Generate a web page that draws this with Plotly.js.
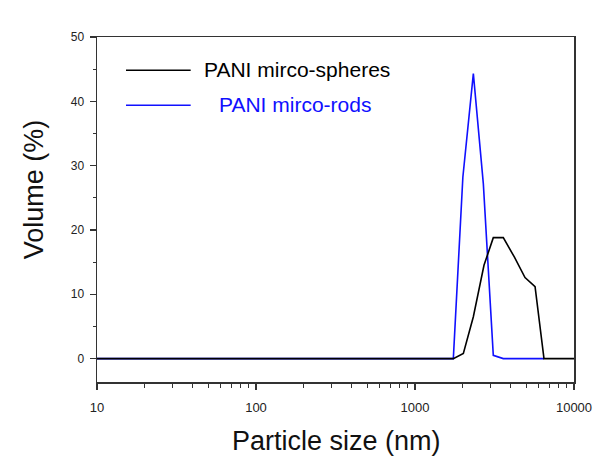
<!DOCTYPE html>
<html>
<head>
<meta charset="utf-8">
<script src="https://cdn.plot.ly/plotly-3.0.1.min.js"></script>
<style>
  html, body { margin: 0; padding: 0; background: #fff; }
  #chart { width: 596px; height: 459px; }
</style>
</head>
<body>
<div id="chart"></div>
<script>
// Particle size (nm) and volume (%)
const spheresSize   = [10, 1742, 2014, 2328, 2716, 3108, 3591, 4213, 4920, 5690, 6475, 10000];
const spheresVolume = [0, 0, 0.8, 6.5, 14.5, 18.8, 18.8, 15.8, 12.6, 11.2, 0, 0];
const rodsSize      = [10, 1742, 2000, 2328, 2690, 3108, 3591, 6475];
const rodsVolume    = [0, 0, 28.2, 44.3, 27.2, 0.5, 0, 0];

const seriesNames = ["PANI mirco-spheres", "PANI mirco-rods"];
const xTitle = "Particle size (nm)";
const yTitle = "Volume (%)";
const yTicks = [0, 10, 20, 30, 40, 50];
const xTicks = [10, 100, 1000, 10000];
const xTickLabels = ["10", "100", "1000", "10000"];

const FONT = "Liberation Sans, Arial, Helvetica, sans-serif";
const BLACK = "#000000";
const BLUE = "#1010ff";
const AXIS = "#333333";

const traces = [
  {
    x: rodsSize, y: rodsVolume, type: "scatter", mode: "lines",
    name: seriesNames[1], line: { color: BLUE, width: 1.6 }, showlegend: false
  },
  {
    x: spheresSize, y: spheresVolume, type: "scatter", mode: "lines",
    name: seriesNames[0], line: { color: BLACK, width: 1.6 }, showlegend: false
  }
];

const layout = {
  width: 596, height: 459,
  margin: { l: 97, r: 22, t: 37, b: 77.3, pad: 0 },
  paper_bgcolor: "#ffffff",
  plot_bgcolor: "#ffffff",
  font: { family: FONT, color: "#222" },
  xaxis: {
    type: "log",
    range: [1, 4],
    tickvals: xTicks,
    ticktext: xTickLabels,
    ticks: "outside", ticklen: 6, tickwidth: 1.3, tickcolor: AXIS,
    minor: { ticks: "outside", ticklen: 4, tickwidth: 1, tickcolor: AXIS, dtick: "D1" },
    showline: true, linecolor: AXIS, linewidth: 1.5, mirror: true,
    showgrid: false, zeroline: false,
    tickfont: { size: 13, family: FONT, color: "#222" },
    ticklabelstandoff: 7
  },
  yaxis: {
    range: [-3.64, 50],
    tickvals: yTicks,
    ticks: "outside", ticklen: 6, tickwidth: 1.3, tickcolor: AXIS,
    minor: { ticks: "outside", ticklen: 3, tickwidth: 1, tickcolor: AXIS, dtick: 5, tick0: 5 },
    showline: true, linecolor: AXIS, linewidth: 1.5, mirror: true,
    showgrid: false, zeroline: false,
    tickfont: { size: 12, family: FONT, color: "#222" },
    ticklabelstandoff: 3
  },
  shapes: [
    { type: "line", xref: "paper", yref: "paper", x0: 0.0608, x1: 0.1964, y0: 0.9035, y1: 0.9035,
      line: { color: BLACK, width: 1.6 } },
    { type: "line", xref: "paper", yref: "paper", x0: 0.0608, x1: 0.1964, y0: 0.802, y1: 0.802,
      line: { color: BLUE, width: 1.6 } }
  ],
  annotations: [
    { text: seriesNames[0], xref: "paper", yref: "paper", x: 0.2205, y: 0.905,
      xanchor: "left", yanchor: "middle", showarrow: false,
      font: { size: 21, family: FONT, color: BLACK } },
    { text: seriesNames[1], xref: "paper", yref: "paper", x: 0.2525, y: 0.804,
      xanchor: "left", yanchor: "middle", showarrow: false,
      font: { size: 21, family: FONT, color: BLUE } },
    { text: yTitle, xref: "paper", yref: "paper", x: -0.132, y: 0.5586,
      xanchor: "center", yanchor: "middle", textangle: -90, showarrow: false,
      font: { size: 27, family: FONT, color: "#111" } },
    { text: xTitle, xref: "paper", yref: "paper", x: 0.5025, y: -0.17,
      xanchor: "center", yanchor: "middle", showarrow: false,
      font: { size: 27, family: FONT, color: "#111" } }
  ]
};

Plotly.newPlot("chart", traces, layout, { displayModeBar: false, staticPlot: true });
</script>
</body>
</html>
